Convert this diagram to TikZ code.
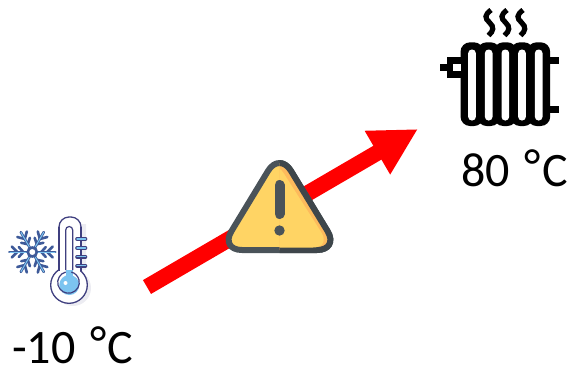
\documentclass[tikz,border=0pt]{standalone}
\usepackage{fontspec}
\setmainfont{Carlito}
\usetikzlibrary{arrows.meta}
\definecolor{navyline}{HTML}{3F3F7F}
\definecolor{frostblue}{HTML}{7CC4F0}
\definecolor{flakeblue}{HTML}{3E5A99}
\definecolor{signedge}{HTML}{4A5359}
\definecolor{signedgedark}{HTML}{3E464B}
\definecolor{signfill}{HTML}{FFD464}
\definecolor{signshade}{HTML}{FDBA5C}
\definecolor{shadowgrey}{HTML}{ECECF2}
\tikzset{
  temp/.style={anchor=base west,inner sep=0pt,font=\fontsize{48}{48}\selectfont},
  steam/.style={draw=black,line width=5.2pt},
  flake/.style={draw=flakeblue,line width=2.6pt,line cap=round},
  flakein/.style={draw=frostblue,line width=1pt,line cap=round},
  flow/.style={draw=red,line width=16pt,-{Triangle[length=47pt,width=47pt]}},
  signshape/.style={line width=6pt,line join=round,rounded corners=22pt},
}
\newcommand{\degC}{\hspace{0.08em}\raisebox{3.5pt}{°}\hspace{0.03em}C}
\begin{document}
\begin{tikzpicture}[x=1pt,y=-1pt]
\useasboundingbox (0,0) rectangle (569,365);
% arrow
\coordinate (coldend) at (147,287);
\coordinate (hotend) at (418,129);
\draw[flow] (coldend) -- (hotend);
% warning sign
\path[signshape,fill=signfill,draw=signedge]
  (279.5,152) -- (339,250) -- (220,250) -- cycle;
\begin{scope}
  \clip (279.5,150) rectangle (340,256);
  \path[signshape,fill=signshade,draw=signedgedark]
    (279.5,152) -- (339,250) -- (220,250) -- cycle;
  \path[fill=signfill,rounded corners=18pt] (274,158) -- (331,247.5) -- (220,247.5) -- cycle;
\end{scope}
\draw[signedge,line width=10pt,line cap=round] (279.5,185) -- (279.5,214);
\fill[signedge] (279.5,230.5) circle (5.2pt);
% thermometer
\fill[shadowgrey] (74,224) rectangle (86,270) (73,288) circle (18pt);
\path[fill=white,draw=navyline,line width=1.3pt,rounded corners=10pt]
  (59,270) -- (59,217) -- (81,217) -- (81,270);
\fill[white,draw=navyline,line width=1.3pt] (69,285) circle (18.3pt);
\fill[white] (60,262) rectangle (80,275);
\draw[navyline,line width=1.3pt] (59,227) -- (59,271) (81,227) -- (81,271);
\fill[frostblue] (69.3,285) circle (10pt);
\fill[frostblue] (66,270) rectangle (72.6,280);
\draw[navyline,line width=1.2pt] (65.7,270) -- (65.7,230) arc (180:0:3.5pt) -- (72.7,270);
\draw[navyline,line width=1.2pt] (65.7,272) arc (-255:75:10.8pt);
\fill[white] (65.5,283) circle (2pt);
\foreach \yy in {239,248,256.7,265.7}{
  \draw[navyline,line width=3.6pt,line cap=round] (77,\yy) -- (85.5,\yy);
  \draw[frostblue,line width=1.5pt,line cap=round] (77,\yy) -- (85.5,\yy);
}
% snowflake
\foreach \ang in {0,60,...,300}{
  \begin{scope}[shift={(32.3,252)},rotate=\ang]
    \draw[flake] (5,0) -- (23,0);
    \draw[flake] (9,0) -- (13.5,-5) (9,0) -- (13.5,5);
    \draw[flake] (15,0) -- (20.5,-5.5) (15,0) -- (20.5,5.5);
    \draw[flakein] (6,0) -- (22.5,0);
  \end{scope}
}
\draw[flake,fill=white] (32.3,252) circle (4.5pt);
% radiator
\foreach \cx in {472,488.7,505.3,522,538.7}{
  \fill[black,rounded corners=9.5pt] (\cx-11.5,42.3) rectangle (\cx+11.5,126);
}
\fill[black] (446.7,56.7) rectangle (465,78);
\fill[black] (440,64) rectangle (447,71);
\fill[white] (452.7,64) rectangle (460.7,71);
\fill[black] (548,56.7) rectangle (558.5,64);
\fill[black] (548,106) rectangle (558.5,112.7);
\foreach \cx in {472,488.7,505.3,522,538.7}{
  \fill[white,rounded corners=3.6pt] (\cx-3.8,49.5) rectangle (\cx+3.8,120.5);
}
\foreach \sx in {489.5,505.5,521.5}{
  \draw[steam] (\sx+1.5,10) .. controls (\sx-5,15) and (\sx-5,18) .. (\sx,22.5)
    .. controls (\sx+5,27) and (\sx+4,31) .. (\sx-1,35.5);
}
% labels
\node[temp] (coldlabel) at (12,363) {-10\ \degC};
\node[temp] (hotlabel) at (461,186) {80\ \degC};
\end{tikzpicture}
\end{document}
